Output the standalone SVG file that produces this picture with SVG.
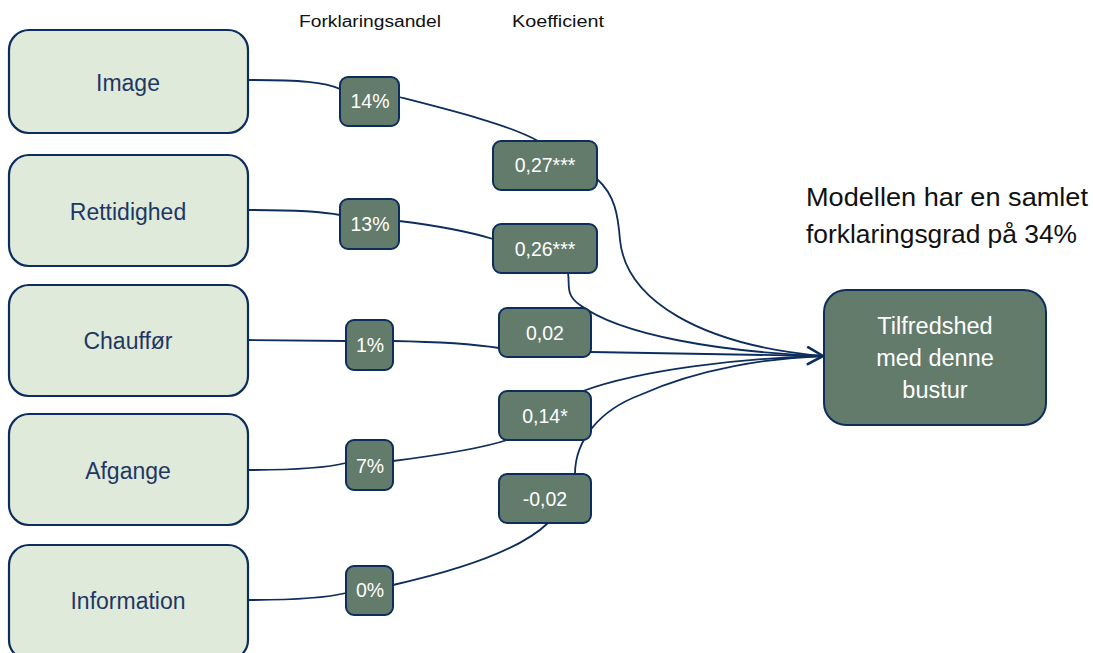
<svg xmlns="http://www.w3.org/2000/svg" width="1093" height="653" viewBox="0 0 1093 653">
<defs>
<style>
.src{fill:#dfeadb;stroke:#0d2e5c;stroke-width:2.2}
.dk{fill:#637b6b;stroke:#0d2e5c;stroke-width:2}
.lbl{font-family:"Liberation Sans",Arial,sans-serif;font-size:23px;fill:#1f3763;text-anchor:middle}
.val{font-family:"Liberation Sans",Arial,sans-serif;font-size:19.5px;fill:#ffffff;text-anchor:middle}
.hdr{font-family:"Liberation Sans",Arial,sans-serif;font-size:16px;fill:#111111;text-anchor:middle}
.note{font-family:"Liberation Sans",Arial,sans-serif;font-size:25px;fill:#111111}
.tgt{font-family:"Liberation Sans",Arial,sans-serif;font-size:23.5px;fill:#ffffff;text-anchor:middle}
.ln{fill:none;stroke:#0d2e5c;stroke-width:1.8}
</style>
<marker id="arr" viewBox="0 0 20 20" refX="18" refY="10" markerWidth="20" markerHeight="20" markerUnits="userSpaceOnUse" orient="auto">
<path d="M2,1 L18,10 L2,19" fill="none" stroke="#0d2e5c" stroke-width="2.6"/>
</marker>
</defs>
<rect width="1093" height="653" fill="#ffffff"/>

<g id="connectors">
<path class="ln" d="M248,80 C300,80 325,82 340,89"/>
<path class="ln" d="M399,97 C450,110 510,125 538,141"/>
<path class="ln" d="M597,179 C615,195 618,215 620,240 C626,300 700,345 823,356"/>
<path class="ln" d="M248,210 C300,210 325,212 340,215"/>
<path class="ln" d="M399,221 C440,226 470,232 493,239"/>
<path class="ln" d="M568,273 C570,285 565,295 580,305 C620,335 720,352 823,356"/>
<path class="ln" d="M248,340 L346,341"/>
<path class="ln" d="M393,341 C450,342 480,345 499,348"/>
<path class="ln" d="M591,352 C700,354 780,355 823,356" marker-end="url(#arr)"/>
<path class="ln" d="M248,470 C300,470 330,467 346,463"/>
<path class="ln" d="M393,461 C440,455 480,449 507,440"/>
<path class="ln" d="M583,391 C640,370 740,358 823,356"/>
<path class="ln" d="M248,600 C300,600 330,597 346,593"/>
<path class="ln" d="M393,585 C460,570 520,550 548,523"/>
<path class="ln" d="M575,474 C575,440 600,410 640,395 C700,368 770,358 823,356"/>
</g>

<g id="headers">
<text class="hdr" x="370" y="27" textLength="142" lengthAdjust="spacingAndGlyphs">Forklaringsandel</text>
<text class="hdr" x="558" y="27" textLength="92" lengthAdjust="spacingAndGlyphs">Koefficient</text>
</g>

<g id="note">
<text class="note" x="806" y="206" textLength="282" lengthAdjust="spacingAndGlyphs">Modellen har en samlet</text>
<text class="note" x="806" y="243" textLength="271" lengthAdjust="spacingAndGlyphs">forklaringsgrad på 34%</text>
</g>

<g id="node-image">
<rect class="src" x="9" y="30" width="239" height="103" rx="20"/>
<text class="lbl" x="128" y="91">Image</text>
</g>
<g id="node-rettidighed">
<rect class="src" x="9" y="155" width="239" height="111" rx="20"/>
<text class="lbl" x="128" y="220">Rettidighed</text>
</g>
<g id="node-chauffor">
<rect class="src" x="9" y="285" width="239" height="111" rx="20"/>
<text class="lbl" x="128" y="349">Chauffør</text>
</g>
<g id="node-afgange">
<rect class="src" x="9" y="414" width="239" height="111" rx="20"/>
<text class="lbl" x="128" y="479">Afgange</text>
</g>
<g id="node-information">
<rect class="src" x="9" y="545" width="239" height="115" rx="20"/>
<text class="lbl" x="128" y="609">Information</text>
</g>

<g id="share-image">
<rect class="dk" x="340" y="77" width="59" height="49" rx="8"/>
<text class="val" x="370" y="108">14%</text>
</g>
<g id="share-rettidighed">
<rect class="dk" x="340" y="199" width="59" height="50" rx="8"/>
<text class="val" x="370" y="231">13%</text>
</g>
<g id="share-chauffor">
<rect class="dk" x="346" y="320" width="47" height="50" rx="8"/>
<text class="val" x="370" y="352">1%</text>
</g>
<g id="share-afgange">
<rect class="dk" x="346" y="440" width="47" height="50" rx="8"/>
<text class="val" x="370" y="473">7%</text>
</g>
<g id="share-information">
<rect class="dk" x="346" y="566" width="47" height="49" rx="8"/>
<text class="val" x="370" y="597">0%</text>
</g>

<g id="coef-image">
<rect class="dk" x="493" y="141" width="104" height="49" rx="8"/>
<text class="val" x="545" y="172">0,27***</text>
</g>
<g id="coef-rettidighed">
<rect class="dk" x="493" y="224" width="104" height="49" rx="8"/>
<text class="val" x="545" y="256">0,26***</text>
</g>
<g id="coef-chauffor">
<rect class="dk" x="499" y="308" width="92" height="49" rx="8"/>
<text class="val" x="545" y="340">0,02</text>
</g>
<g id="coef-afgange">
<rect class="dk" x="499" y="391" width="92" height="49" rx="8"/>
<text class="val" x="545" y="423">0,14*</text>
</g>
<g id="coef-information">
<rect class="dk" x="499" y="474" width="92" height="49" rx="8"/>
<text class="val" x="545" y="506">-0,02</text>
</g>

<g id="node-target">
<rect class="dk" x="824" y="290" width="222" height="135" rx="22" stroke-width="2.4"/>
<text class="tgt" x="935" y="334">Tilfredshed</text>
<text class="tgt" x="935" y="366">med denne</text>
<text class="tgt" x="935" y="398">bustur</text>
</g>
</svg>
